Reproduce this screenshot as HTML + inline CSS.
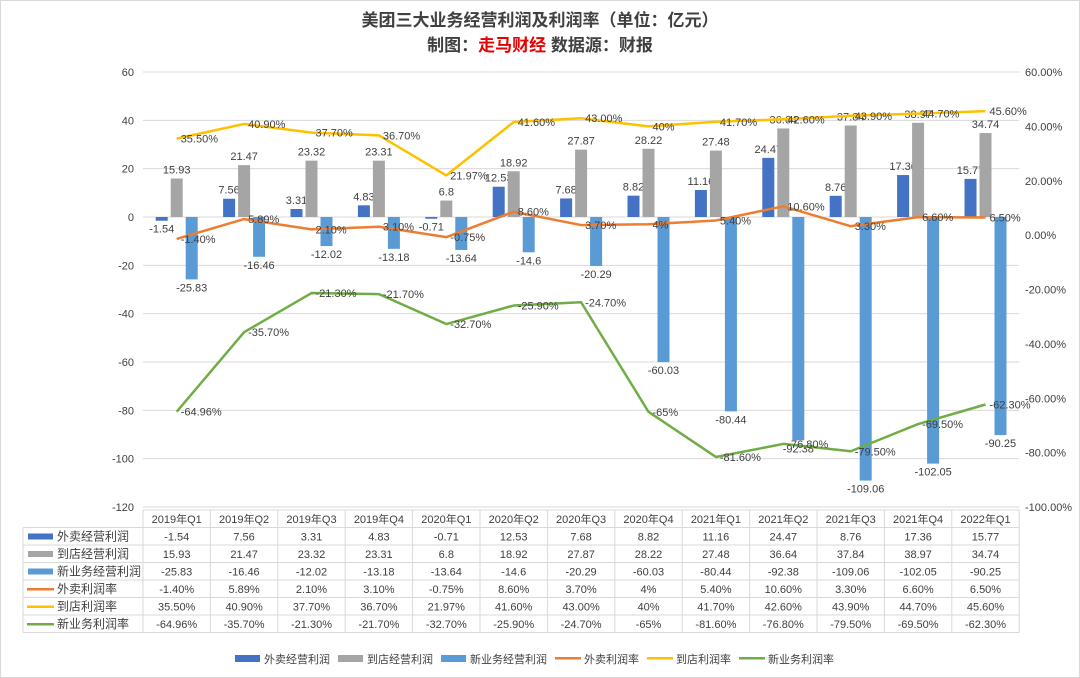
<!DOCTYPE html>
<html><head><meta charset="utf-8"><style>
body{margin:0;background:#fff;}
#wrap{position:relative;width:1080px;height:678px;overflow:hidden;font-family:"Liberation Sans","Noto Sans CJK SC",sans-serif;}
svg text{font-family:"Liberation Sans","Noto Sans CJK SC",sans-serif;}
</style></head><body>
<div id="wrap">
<svg id="c" width="1080" height="678"></svg>
</div>
<script>
const categories=["2019年Q1","2019年Q2","2019年Q3","2019年Q4","2020年Q1","2020年Q2","2020年Q3","2020年Q4","2021年Q1","2021年Q2","2021年Q3","2021年Q4","2022年Q1"];
const waimaiProfit=[-1.54,7.56,3.31,4.83,-0.71,12.53,7.68,8.82,11.16,24.47,8.76,17.36,15.77];
const daodianProfit=[15.93,21.47,23.32,23.31,6.8,18.92,27.87,28.22,27.48,36.64,37.84,38.97,34.74];
const newBizProfit=[-25.83,-16.46,-12.02,-13.18,-13.64,-14.6,-20.29,-60.03,-80.44,-92.38,-109.06,-102.05,-90.25];
const waimaiRate=[-1.40,5.89,2.10,3.10,-0.75,8.60,3.70,4,5.40,10.60,3.30,6.60,6.50];
const daodianRate=[35.50,40.90,37.70,36.70,21.97,41.60,43.00,40,41.70,42.60,43.90,44.70,45.60];
const newBizRate=[-64.96,-35.70,-21.30,-21.70,-32.70,-25.90,-24.70,-65,-81.60,-76.80,-79.50,-69.50,-62.30];
const rateLabels=[
["-1.40%","5.89%","2.10%","3.10%","-0.75%","8.60%","3.70%","4%","5.40%","10.60%","3.30%","6.60%","6.50%"],
["35.50%","40.90%","37.70%","36.70%","21.97%","41.60%","43.00%","40%","41.70%","42.60%","43.90%","44.70%","45.60%"],
["-64.96%","-35.70%","-21.30%","-21.70%","-32.70%","-25.90%","-24.70%","-65%","-81.60%","-76.80%","-79.50%","-69.50%","-62.30%"]];
const leftTicks=[60,40,20,0,-20,-40,-60,-80,-100,-120];
const rightTicks=[60,40,20,0,-20,-40,-60,-80,-100];

const svg=document.getElementById('c');
const NS="http://www.w3.org/2000/svg";
function mk(tag,attrs,parent){const e=document.createElementNS(NS,tag);for(const k in attrs)e.setAttribute(k,attrs[k]);(parent||svg).appendChild(e);return e;}
function txt(x,y,s,attrs){const e=mk('text',Object.assign({x:x,y:y,'font-size':11,fill:'#404040'},attrs||{}));e.textContent=s;return e;}
const X0=143,CW=67.4,T=72,B=507;
const yL=v=>T+(60-v)*(B-T)/180;
const yR=v=>T+(60-v)*(B-T)/160;
const xc=i=>X0+CW*(i+0.5);

mk('rect',{x:0.5,y:0.5,width:1079,height:677,fill:'#fff',stroke:'#d9d9d9'});
let t=txt(540,26,'美团三大业务经营利润及利润率（单位：亿元）',{'font-size':17,'font-weight':'bold','text-anchor':'middle',fill:'#404040'});

t=mk('text',{x:540,y:51,'font-size':17,'font-weight':'bold','text-anchor':'middle',fill:'#404040'});
t.innerHTML='制图：<tspan fill="#e60000">走马财经</tspan> 数据源：财报';


leftTicks.forEach(v=>{
 const l=mk('line',{x1:X0,x2:X0+13*CW,y1:yL(v),y2:yL(v),stroke:'#d9d9d9'});
 
 const e=txt(134,yL(v)+4,String(v),{'text-anchor':'end'});
 
});
rightTicks.forEach(v=>{
 const e=txt(1025,yR(v)+4,v.toFixed(2)+'%');
 
});

const barSeries=[[waimaiProfit,'#4472C4',-15],[daodianProfit,'#A5A5A5',0],[newBizProfit,'#5B9BD5',15]];
barSeries.forEach(([arr,col,off])=>{
 arr.forEach((v,i)=>{
  const x=xc(i)+off-6,y1=yL(Math.max(v,0)),y2=yL(Math.min(v,0));
  const r=mk('rect',{x:x,y:y1,width:12,height:Math.max(y2-y1,0.5),fill:col});
  
  const ly=v>=0?y1-5:y2+12;
  const e=txt(xc(i)+off,ly,String(v),{'text-anchor':'middle'});
  
 });
});

const lineSeries=[[waimaiRate,'#ED7D31',0],[daodianRate,'#FFC000',1],[newBizRate,'#70AD47',2]];
lineSeries.forEach(([arr,col,k])=>{
 const p=mk('polyline',{points:arr.map((v,i)=>xc(i)+','+yR(v)).join(' '),fill:'none',stroke:col,'stroke-width':2.5,'stroke-linejoin':'round'});
 
 arr.forEach((v,i)=>{
  const e=txt(xc(i)+4,yR(v)+4,rateLabels[k][i]);
  
 });
});

// table
const TY=510,RH=17.5,LX=23;
const rows=[['外卖经营利润','#4472C4','bar',waimaiProfit.map(String)],['到店经营利润','#A5A5A5','bar',daodianProfit.map(String)],['新业务经营利润','#5B9BD5','bar',newBizProfit.map(String)],['外卖利润率','#ED7D31','line',rateLabels[0]],['到店利润率','#FFC000','line',rateLabels[1]],['新业务利润率','#70AD47','line',rateLabels[2]]];
const g=mk('g',{stroke:'#d9d9d9','stroke-width':1});

const XE=X0+13*CW;
mk('line',{x1:X0,x2:XE,y1:TY,y2:TY},g);
for(let r=1;r<=7;r++)mk('line',{x1:LX,x2:XE,y1:TY+r*RH,y2:TY+r*RH},g);
mk('line',{x1:LX,x2:LX,y1:TY+RH,y2:TY+7*RH},g);
for(let c=0;c<=13;c++)mk('line',{x1:X0+c*CW,x2:X0+c*CW,y1:TY,y2:TY+7*RH},g);
categories.forEach((s,i)=>{const e=txt(xc(i),TY+13,s,{'text-anchor':'middle'});});
rows.forEach((r,ri)=>{
 const y=TY+RH*(ri+1);
 if(r[2]==='bar')mk('rect',{x:28,y:y+6,width:25,height:6,fill:r[1]});
 else mk('rect',{x:27,y:y+8,width:27,height:2.5,fill:r[1]});
 const e=txt(57,y+13,r[0],{'font-size':12});
 
 r[3].forEach((s,i)=>{const c=txt(xc(i),y+13,s,{'text-anchor':'middle'});});
});

// legend
let lx=235;
rows.forEach(r=>{
 if(r[2]==='bar')mk('rect',{x:lx,y:655,width:25,height:7,fill:r[1]});
 else mk('rect',{x:lx,y:657,width:26,height:2.5,fill:r[1]});
 const e=txt(lx+29,663,r[0],{'font-size':11});
 
 lx+=29+r[0].length*11+8;
});
</script>
</body></html>
